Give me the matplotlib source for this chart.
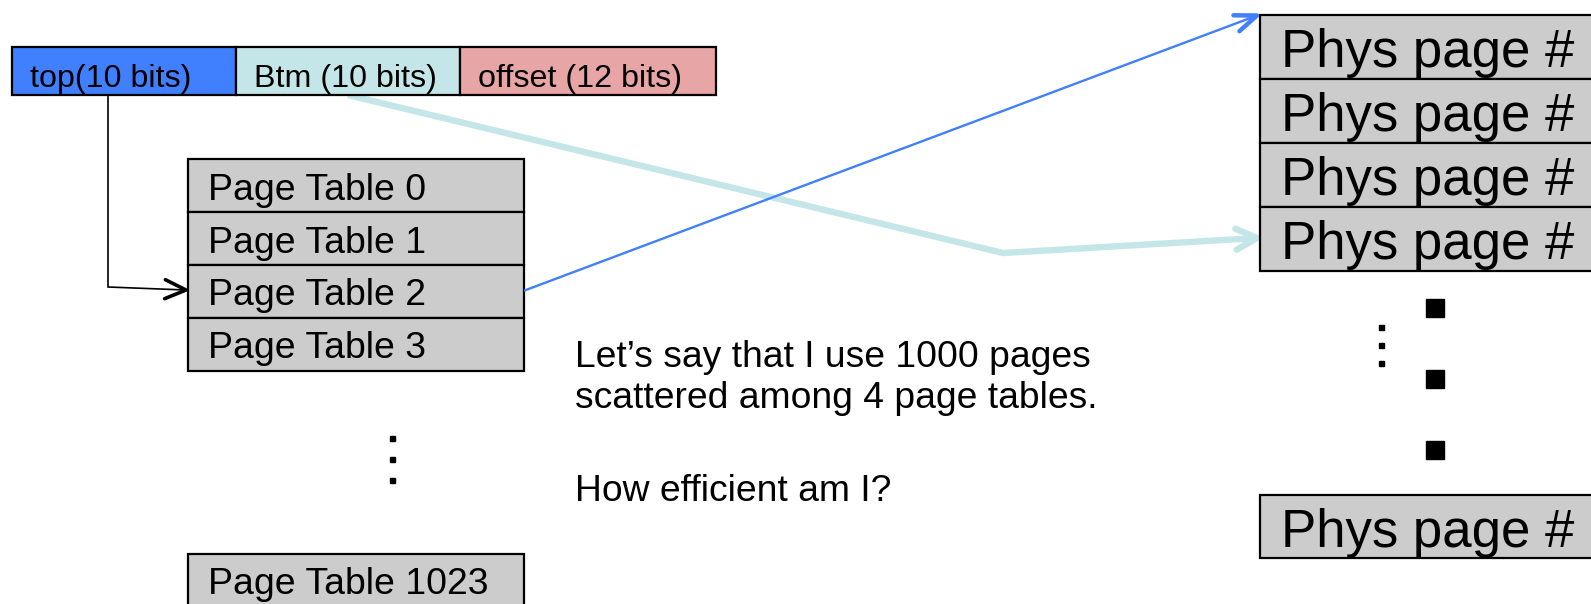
import numpy as np
import matplotlib
matplotlib.use("Agg")
import matplotlib.pyplot as plt
from matplotlib.patches import Rectangle

plt.rcParams["font.family"] = ["Liberation Sans", "DejaVu Sans"]

# --- content -------------------------------------------------------------
field_labels = ["top(10 bits)", "Btm (10 bits)", "offset (12 bits)"]
field_colors = ["#4080FF", "#C5E6E8", "#E8A5A5"]
table_labels = ["Page Table 0", "Page Table 1", "Page Table 2", "Page Table 3"]
last_table_label = "Page Table 1023"
phys_labels = ["Phys page #", "Phys page #", "Phys page #", "Phys page #"]
note_lines = ["Let\u2019s say that I use 1000 pages",
              "scattered among 4 page tables.",
              "How efficient am I?"]

# --- layout (pixel coordinates, y grows downward) -------------------------
W, H = 1591, 604
field_edges = [12, 235.5, 460, 716]
field_top, field_bot = 47, 95
table_x0, table_x1 = 187.5, 524
table_top, row_h = 159.3, 52.8
last_table_top = 554
phys_x0, phys_x1 = 1260, 1610
phys_top, phys_h = 15, 64
last_phys_top = 495
note_x = 575
note_base = [367, 408, 501]

GREY = "#CCCCCC"

fig = plt.figure(figsize=(W / 100, H / 100), dpi=100)
ax = fig.add_axes([0, 0, 1, 1])
ax.set_xlim(0, W)
ax.set_ylim(H, 0)
ax.axis("off")

# virtual address fields
for i, (lab, col) in enumerate(zip(field_labels, field_colors)):
    x0, x1 = field_edges[i], field_edges[i + 1]
    ax.add_patch(Rectangle((x0, field_top), x1 - x0, field_bot - field_top,
                           facecolor=col, edgecolor="black", lw=1.6, zorder=2))
    ax.text(x0 + 18.5, 87, lab, fontsize=23.2, va="baseline", ha="left", zorder=3)

# page tables
for i, lab in enumerate(table_labels):
    y0 = table_top + i * row_h
    ax.add_patch(Rectangle((table_x0, y0), table_x1 - table_x0, row_h,
                           facecolor=GREY, edgecolor="black", lw=1.6, zorder=2))
    ax.text(table_x0 + 20, y0 + 40.5, lab, fontsize=26.9, va="baseline", zorder=3)
ax.add_patch(Rectangle((table_x0, last_table_top), table_x1 - table_x0, row_h,
                       facecolor=GREY, edgecolor="black", lw=1.6, zorder=2))
ax.text(table_x0 + 20, last_table_top + 40.5, last_table_label, fontsize=26.9,
        va="baseline", zorder=3)

# physical page entries
for i, lab in enumerate(phys_labels):
    y0 = phys_top + i * phys_h
    ax.add_patch(Rectangle((phys_x0, y0), phys_x1 - phys_x0, phys_h,
                           facecolor=GREY, edgecolor="black", lw=1.6, zorder=2,
                           clip_on=False))
    ax.text(phys_x0 + 21, y0 + 52, lab, fontsize=38, va="baseline", zorder=3)
ax.add_patch(Rectangle((phys_x0, last_phys_top), phys_x1 - phys_x0, phys_h - 1,
                       facecolor=GREY, edgecolor="black", lw=1.6, zorder=2))
ax.text(phys_x0 + 21, last_phys_top + 52, phys_labels[0], fontsize=38,
        va="baseline", zorder=3)

# ellipses
ax.plot([392, 392, 392], [438, 459, 480], ls="none", marker="s", ms=3.6,
        color="black")
ax.plot([1381, 1381, 1381], [326.5, 344.5, 362.5], ls="none", marker="s",
        ms=3.6, color="black")
ax.plot([1435, 1435, 1435], [308, 379, 450], ls="none", marker="s", ms=13,
        color="black")

# note text
for y, line in zip(note_base, note_lines):
    ax.text(note_x, y, line, fontsize=26.8, va="baseline", ha="left")


def arrow(pts, color, lw, hl, hw, head_lw, zorder=4):
    """Polyline through pts with an open V head at the last point."""
    pts = np.asarray(pts, dtype=float)
    ax.plot(pts[:, 0], pts[:, 1], color=color, lw=lw, zorder=zorder,
            solid_capstyle="butt", solid_joinstyle="miter")
    tip = pts[-1]
    d = tip - pts[-2]
    d /= np.hypot(*d)
    n = np.array([-d[1], d[0]])
    a = tip - d * hl + n * hw
    b = tip - d * hl - n * hw
    ax.plot([a[0], tip[0], b[0]], [a[1], tip[1], b[1]], color=color,
            lw=head_lw, solid_capstyle="round", solid_joinstyle="round",
            zorder=zorder)


# top field -> page table 2
arrow([(108, field_bot), (108, 287), (186, 290)], "black", 1.2, 21, 9.5, 2.6)

# page table 2 -> first phys page
arrow([(524, 290.7), (1257, 15.5)], "#4080FF", 1.7, 22, 8.5, 3.2)

# btm field -> fourth phys page
arrow([(348, 95), (1003, 253), (1257, 238)], "#C5E6E8", 4.6, 21, 10.5, 4.6,
      zorder=1)

fig.savefig("out.png", dpi=100)
